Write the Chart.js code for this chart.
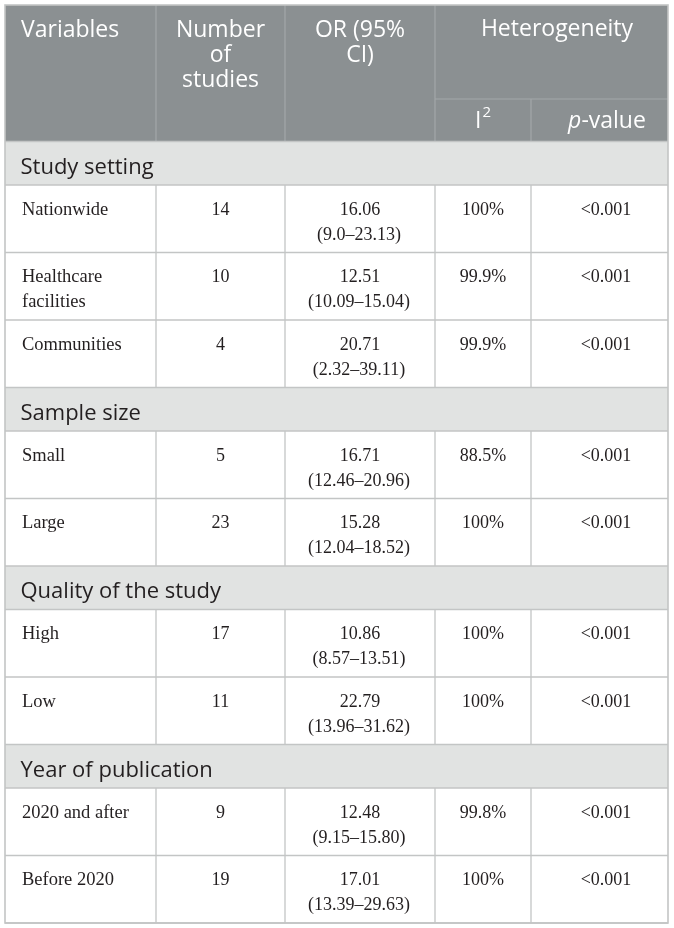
<!DOCTYPE html>
<html>
<head>
<meta charset="utf-8">
<script src="https://cdn.jsdelivr.net/npm/chart.js@4.4.1/dist/chart.umd.min.js"></script>
<style>
  html, body { margin: 0; padding: 0; background: #ffffff; }
  #wrap { width: 674px; height: 928px; }
</style>
</head>
<body>
<div id="wrap"><canvas id="c" width="674" height="928" aria-label="Subgroup analysis table"></canvas></div>
<script>
// ---- Data ----
const groups = ["Study setting", "Sample size", "Quality of the study", "Year of publication"];
const variables = ["Nationwide", "Healthcare facilities", "Communities", "Small", "Large", "High", "Low", "2020 and after", "Before 2020"];
const groupIndex = [0, 0, 0, 1, 1, 2, 2, 3, 3];
const nStudies = [14, 10, 4, 5, 23, 17, 11, 9, 19];
const orValue = ["16.06", "12.51", "20.71", "16.71", "15.28", "10.86", "22.79", "12.48", "17.01"];
const ciLow = ["9.0", "10.09", "2.32", "12.46", "12.04", "8.57", "13.96", "9.15", "13.39"];
const ciHigh = ["23.13", "15.04", "39.11", "20.96", "18.52", "13.51", "31.62", "15.80", "29.63"];
const i2Values = ["100%", "99.9%", "99.9%", "88.5%", "100%", "100%", "100%", "99.8%", "100%"];
const pValues = ["<0.001", "<0.001", "<0.001", "<0.001", "<0.001", "<0.001", "<0.001", "<0.001", "<0.001"];
const headerLabels = [["Variables"], ["Number", "of", "studies"], ["OR (95%", "CI)"]];
const spanLabel = "Heterogeneity";

// ---- Layout (scale units) ----
const W = 674, H = 928;
const colEdges = [5, 156, 285, 435, 531, 668];
const colText = [22, 220.5, 360, 483, 606];
const tableTop = 5, headerBottom = 141.5, subLine = 99;
const sectionH = 43.5, dataH = 67.5;

const C = {
  headerBg: "#8b9092", headerLine: "#a3a7a9", headerText: "#ffffff",
  sectionBg: "#e1e3e2", grid: "#c3c5c5", text: "#231f20"
};
const SANS = "'Open Sans', 'DejaVu Sans', sans-serif";
const SERIF = "'Liberation Serif', 'DejaVu Serif', serif";

function wrapText(ctx, text, maxW) {
  const words = text.split(" ");
  const lines = [];
  let cur = "";
  for (const w of words) {
    const t = cur ? cur + " " + w : w;
    if (ctx.measureText(t).width > maxW && cur) { lines.push(cur); cur = w; }
    else cur = t;
  }
  if (cur) lines.push(cur);
  return lines;
}

const tablePlugin = {
  id: "tablePlugin",
  afterDraw(chart) {
    const ctx = chart.ctx;
    const xs = chart.scales.x, ys = chart.scales.y;
    const X = v => xs.getPixelForValue(v);
    const Y = v => ys.getPixelForValue(v);
    const L = colEdges[0], R = colEdges[colEdges.length - 1];

    ctx.save();
    // header background
    ctx.fillStyle = C.headerBg;
    ctx.fillRect(X(L), Y(tableTop), X(R) - X(L), Y(headerBottom) - Y(tableTop));

    // header lines
    ctx.strokeStyle = C.headerLine;
    ctx.lineWidth = 1.2;
    ctx.beginPath();
    for (let i = 1; i <= 3; i++) {
      ctx.moveTo(X(colEdges[i]), Y(tableTop)); ctx.lineTo(X(colEdges[i]), Y(headerBottom));
    }
    ctx.moveTo(X(colEdges[4]), Y(subLine)); ctx.lineTo(X(colEdges[4]), Y(headerBottom));
    ctx.moveTo(X(colEdges[3]), Y(subLine)); ctx.lineTo(X(R), Y(subLine));
    ctx.stroke();

    // header text
    ctx.fillStyle = C.headerText;
    ctx.font = "23px " + SANS;
    ctx.textBaseline = "alphabetic";
    headerLabels.forEach((lines, ci) => {
      lines.forEach((ln, li) => {
        const yb = 36.5 + li * 25;
        if (ci === 0) { ctx.textAlign = "left"; ctx.fillText(ln, X(colText[0] - 1), Y(yb)); }
        else { ctx.textAlign = "center"; ctx.fillText(ln, X(colText[ci]), Y(yb)); }
      });
    });
    ctx.textAlign = "center";
    ctx.fillText(spanLabel, X(557), Y(36));
    // I^2
    ctx.textAlign = "left";
    ctx.font = "23px " + SANS;
    const wI = ctx.measureText("I").width;
    ctx.font = "15px " + SANS;
    const w2 = ctx.measureText("2").width;
    const sx = colText[3] - (wI + w2 + 1) / 2;
    ctx.font = "23px " + SANS;
    ctx.fillText("I", X(sx), Y(128));
    ctx.font = "15px " + SANS;
    ctx.fillText("2", X(sx + wI + 1), Y(117));
    // p-value
    ctx.font = "italic 23px " + SANS;
    const wp = ctx.measureText("p").width;
    ctx.font = "23px " + SANS;
    const wv = ctx.measureText("-value").width;
    const px = colText[4] + 1 - (wp + wv) / 2;
    ctx.font = "italic 23px " + SANS;
    ctx.fillText("p", X(px), Y(128));
    ctx.font = "23px " + SANS;
    ctx.fillText("-value", X(px + wp), Y(128));

    // body rows
    let top = headerBottom;
    const hLines = [];
    const vSegs = [];
    groups.forEach((g, gi) => {
      // section row
      ctx.fillStyle = C.sectionBg;
      ctx.fillRect(X(L), Y(top), X(R) - X(L), Y(top + sectionH) - Y(top));
      ctx.fillStyle = C.text;
      ctx.font = "22px " + SANS;
      ctx.textAlign = "left";
      ctx.fillText(g, X(20.5), Y(top + 32));
      top += sectionH;
      hLines.push(top);
      variables.forEach((v, vi) => {
        if (groupIndex[vi] !== gi) return;
        const bot = top + dataH;
        vSegs.push([top, bot]);
        ctx.fillStyle = C.text;
        ctx.font = "18.5px " + SERIF;
        ctx.textAlign = "left";
        const lines = wrapText(ctx, v, colEdges[1] - colEdges[0] - 30);
        lines.forEach((ln, li) => ctx.fillText(ln, X(colText[0]), Y(top + 29.5 + li * 25)));
        ctx.font = "18px " + SERIF;
        ctx.textAlign = "center";
        ctx.fillText(String(nStudies[vi]), X(colText[1]), Y(top + 29.5));
        ctx.fillText(orValue[vi], X(colText[2]), Y(top + 29.5));
        ctx.fillText("(" + ciLow[vi] + "\u2013" + ciHigh[vi] + ")", X(colText[2] - 1), Y(top + 54.5));
        ctx.fillText(i2Values[vi], X(colText[3]), Y(top + 29.5));
        ctx.fillText(pValues[vi], X(colText[4]), Y(top + 29.5));
        top = bot;
        hLines.push(top);
      });
    });

    // grid lines
    ctx.strokeStyle = C.grid;
    ctx.lineWidth = 1.3;
    ctx.beginPath();
    hLines.forEach(yv => { ctx.moveTo(X(L), Y(yv)); ctx.lineTo(X(R), Y(yv)); });
    vSegs.forEach(([t, b]) => {
      for (let i = 1; i <= 4; i++) { ctx.moveTo(X(colEdges[i]), Y(t)); ctx.lineTo(X(colEdges[i]), Y(b)); }
    });
    ctx.moveTo(X(L), Y(headerBottom)); ctx.lineTo(X(R), Y(headerBottom));
    ctx.stroke();
    // outer border
    ctx.strokeStyle = C.grid;
    ctx.lineWidth = 1.6;
    ctx.strokeRect(X(L), Y(tableTop), X(R) - X(L), Y(top) - Y(tableTop));
    ctx.restore();
  }
};

new Chart(document.getElementById("c"), {
  type: "scatter",
  data: { datasets: [{ data: [] }] },
  options: {
    responsive: false,
    animation: false,
    events: [],
    layout: { padding: 0 },
    plugins: { legend: { display: false }, tooltip: { enabled: false }, title: { display: false } },
    scales: {
      x: { type: "linear", min: 0, max: W, display: false },
      y: { type: "linear", min: 0, max: H, reverse: true, display: false }
    }
  },
  plugins: [tablePlugin]
});
</script>
</body>
</html>
